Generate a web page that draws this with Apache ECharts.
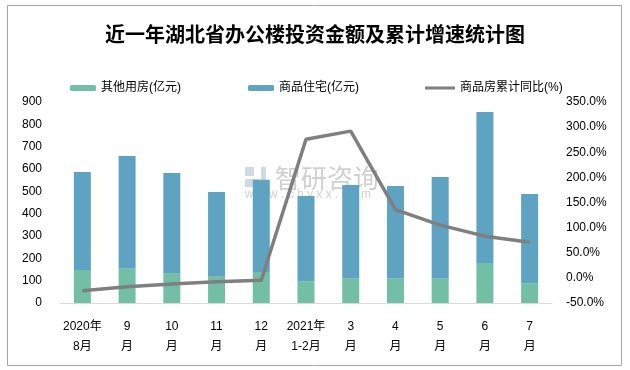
<!DOCTYPE html>
<html><head><meta charset="utf-8">
<script src="https://cdn.jsdelivr.net/npm/echarts@6/dist/echarts.min.js"></script>
<style>html,body{margin:0;padding:0;background:#fff}#c{width:630px;height:370px}</style>
</head><body><div id="c"></div>
<script>
var categories = ['2020年\n8月','9\n月','10\n月','11\n月','12\n月','2021年\n1-2月','3\n月','4\n月','5\n月','6\n月','7\n月'];
var otherBuildings = [148,155,134,121,139,98,110,110,110,179,89];
var residential = [439,503,448,376,413,381,418,414,454,676,399];
var cumulativeYoY = [-25.5,-17.6,-12.2,-7.6,-4.8,275.8,292,135.7,105,83,71];
var leftTicks = [0,900,100];
var rightTicks = [-50,350,50];

var FONT = '"Liberation Sans","Noto Sans CJK SC",sans-serif';
var chart = echarts.init(document.getElementById('c'));
chart.setOption({
  animation:false,
  title:{text:'近一年湖北省办公楼投资金额及累计增速统计图',left:'center',top:19,
    textStyle:{fontFamily:'"Noto Sans CJK SC",sans-serif',fontSize:20,fontWeight:'bold',color:'#000'}},
  legend:[
    {data:['其他用房(亿元)'],left:65,top:77,itemWidth:26,itemHeight:6,itemGap:5,textStyle:{fontFamily:FONT,fontSize:12,color:'#000'}},
    {data:['商品住宅(亿元)'],left:243,top:77,itemWidth:26,itemHeight:6,itemGap:5,textStyle:{fontFamily:FONT,fontSize:12,color:'#000'}},
    {data:[{name:'商品房累计同比(%)',icon:'rect'}],left:420,top:77,itemWidth:30,itemHeight:3,textStyle:{fontFamily:FONT,fontSize:12,color:'#000'}}
  ],
  grid:{left:60,right:78,top:102,bottom:67},
  xAxis:{type:'category',data:categories,
    axisLine:{lineStyle:{color:'#D9D9D9'}},axisTick:{show:false},
    axisLabel:{interval:0,fontFamily:FONT,fontSize:12,color:'#000',lineHeight:20,margin:14}},
  yAxis:[
    {type:'value',min:leftTicks[0],max:leftTicks[1],interval:leftTicks[2],splitLine:{show:false},
      axisLine:{show:false},axisTick:{show:false},
      axisLabel:{fontFamily:FONT,fontSize:12,color:'#000',margin:18}},
    {type:'value',min:rightTicks[0],max:rightTicks[1],interval:rightTicks[2],splitLine:{show:false},
      axisLine:{show:false},axisTick:{show:false},
      axisLabel:{fontFamily:FONT,fontSize:12,color:'#000',margin:14,
        formatter:function(v){return v.toFixed(1)+'%';}}}
  ],
  series:[
    {name:'其他用房(亿元)',type:'bar',stack:'a',data:otherBuildings,barWidth:17,itemStyle:{color:'#72BFA5'}},
    {name:'商品住宅(亿元)',type:'bar',stack:'a',data:residential,barWidth:17,itemStyle:{color:'#5FA3C2'}},
    {name:'商品房累计同比(%)',type:'line',yAxisIndex:1,data:cumulativeYoY,symbol:'none',
      lineStyle:{color:'#7F7F7F',width:3.5},itemStyle:{color:'#7F7F7F'},z:5}
  ],
  graphic:[
    {type:'rect',shape:{x:7.5,y:5.5,width:614,height:360},style:{fill:'none',stroke:'#A6A6A6',lineWidth:1},silent:true},
    {type:'group',z:100,silent:true,children:[
      {type:'rect',shape:{x:245,y:167,width:9,height:9},style:{fill:'rgba(170,185,205,0.55)'}},
      {type:'rect',shape:{x:245,y:179,width:14,height:8},style:{fill:'rgba(170,185,205,0.55)'}},
      {type:'rect',shape:{x:261,y:167,width:5,height:20},style:{fill:'rgba(170,185,205,0.55)'}},
      {type:'text',x:275,y:165,style:{text:'智研咨询',font:'26px "Noto Sans CJK SC"',fill:'rgba(150,150,150,0.45)'}},
      {type:'text',x:245,y:189,style:{text:'w w w . c h y x x . c o m',font:'12px "Liberation Sans"',fill:'rgba(150,150,150,0.45)'}}
    ]}
  ]
});
</script></body></html>
